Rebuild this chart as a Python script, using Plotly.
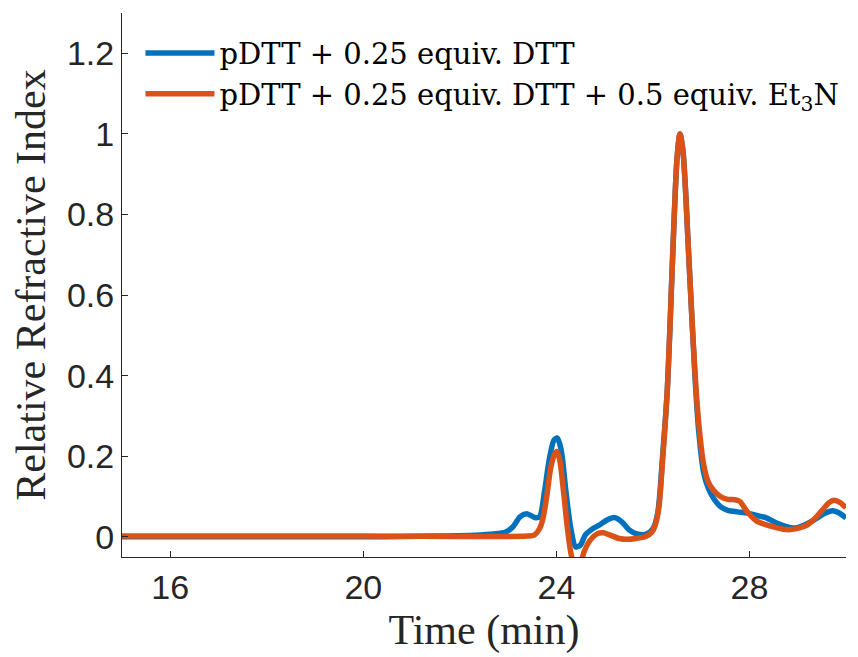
import plotly.graph_objects as go

# Time (min) and relative refractive index
time_blue = [15.0, 20.0, 21.5, 22.3, 22.7, 22.95, 23.1, 23.25, 23.4, 23.55, 23.65, 23.75, 23.85, 23.95, 24.02,
             24.1, 24.2, 24.3, 24.4, 24.5, 24.6, 24.75, 24.9, 25.05, 25.2, 25.35, 25.5, 25.65, 25.85, 26.0,
             26.1, 26.2, 26.3, 26.4, 26.45, 26.5, 26.56, 26.62, 26.68, 26.72, 26.8, 26.88, 26.95, 27.05, 27.15,
             27.26, 27.4, 27.55, 27.75, 27.95, 28.15, 28.35, 28.55, 28.75, 28.95, 29.15, 29.35, 29.55, 29.72,
             29.85, 30.0]
ri_blue = [0.0, 0.0, 0.002, 0.004, 0.007, 0.012, 0.025, 0.05, 0.057, 0.048, 0.05, 0.11, 0.19, 0.24, 0.245,
           0.215, 0.11, 0.02, -0.025, -0.02, 0.005, 0.02, 0.03, 0.042, 0.048, 0.038, 0.018, 0.008, 0.006, 0.02,
           0.06, 0.2, 0.37, 0.67, 0.82, 0.94, 1.0, 0.96, 0.85, 0.75, 0.56, 0.38, 0.26, 0.16, 0.12,
           0.095, 0.075, 0.066, 0.062, 0.059, 0.053, 0.047, 0.035, 0.026, 0.022, 0.03, 0.043, 0.058, 0.065,
           0.06, 0.047]

time_orange = [15.0, 20.0, 23.4, 23.55, 23.65, 23.72, 23.8, 23.88, 23.96, 24.01, 24.07, 24.15, 24.22, 24.3,
               24.4, 24.5, 24.58, 24.7, 24.85, 24.97, 25.1, 25.3, 25.46, 25.65, 25.85, 25.98, 26.05, 26.12,
               26.2, 26.3, 26.4, 26.45, 26.5, 26.56, 26.62, 26.68, 26.72, 26.8, 26.88, 26.95, 27.05, 27.15,
               27.26, 27.4, 27.55, 27.7, 27.8, 27.95, 28.15, 28.35, 28.5, 28.7, 28.85, 29.0, 29.2, 29.35,
               29.5, 29.65, 29.75, 29.88, 30.0]
ri_orange = [0.002, 0.002, 0.002, 0.005, 0.02, 0.045, 0.1, 0.17, 0.205, 0.212, 0.19, 0.11, 0.03, -0.04,
             -0.085, -0.065, -0.035, -0.008, 0.008, 0.01, 0.005, -0.004, -0.006, -0.004, 0.001, 0.012, 0.03, 0.07,
             0.19, 0.37, 0.67, 0.82, 0.94, 1.0, 0.96, 0.85, 0.75, 0.56, 0.39, 0.28, 0.18, 0.135,
             0.115, 0.1, 0.093, 0.092, 0.088, 0.063, 0.039, 0.03, 0.025, 0.019, 0.018, 0.021, 0.03, 0.045,
             0.065, 0.085, 0.091, 0.085, 0.072]

x_ticks = [16, 20, 24, 28]
y_ticks = [0, 0.2, 0.4, 0.6, 0.8, 1.0, 1.2]
y_ticktext = ["0", "0.2", "0.4", "0.6", "0.8", "1", "1.2"]

name_blue = "pDTT + 0.25 equiv. DTT"
name_orange = "pDTT + 0.25 equiv. DTT + 0.5 equiv. Et<sub>3</sub>N"

serif = "Liberation Serif, serif"
legend_serif = "DejaVu Serif, serif"
sans = "Liberation Sans, Arial, sans-serif"
axis_col = "#262626"

fig = go.Figure()
fig.add_trace(go.Scatter(x=time_blue, y=ri_blue, mode="lines", name=name_blue,
                         line=dict(color="#0072BD", width=5.5, shape="spline", smoothing=0.8)))
fig.add_trace(go.Scatter(x=time_orange, y=ri_orange, mode="lines", name=name_orange,
                         line=dict(color="#D95319", width=5.5, shape="spline", smoothing=0.8)))

fig.update_layout(
    width=858, height=657,
    margin=dict(l=122, r=12, t=13, b=100),
    paper_bgcolor="white", plot_bgcolor="white",
    font=dict(family=serif),
    legend=dict(x=0.0255, y=0.973, xanchor="left", yanchor="top",
                font=dict(family=legend_serif, size=29, color="black"),
                bgcolor="rgba(0,0,0,0)", itemwidth=69),
    xaxis=dict(range=[15, 30], tickvals=x_ticks, ticks="inside", ticklen=6, tickcolor=axis_col,
               showline=True, linecolor=axis_col, linewidth=1, showgrid=False, zeroline=False,
               tickfont=dict(family=sans, size=34, color=axis_col),
               title=dict(text="Time (min)", font=dict(family=serif, size=42, color=axis_col), standoff=9)),
    yaxis=dict(range=[-0.05, 1.3], tickvals=y_ticks, ticktext=y_ticktext, ticks="inside", ticklen=6,
               tickcolor=axis_col, showline=True, linecolor=axis_col, linewidth=1, showgrid=False,
               zeroline=False, tickfont=dict(family=sans, size=34, color=axis_col),
               title=dict(text="Relative Refractive Index", font=dict(family=serif, size=42, color=axis_col),
                          standoff=8)),
)

fig.write_html("out.html")
